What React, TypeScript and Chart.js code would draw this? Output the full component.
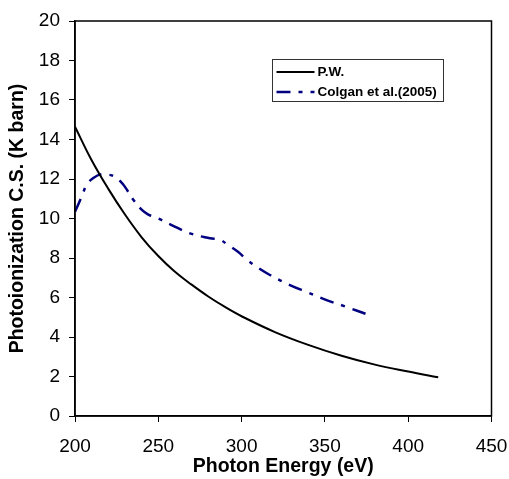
import React, { useEffect, useRef } from "react";
import { Chart, registerables } from "chart.js";

Chart.register(...registerables);

const pwEnergy = [200, 210, 220, 230, 240, 250, 260, 270, 280, 290, 300, 320, 340, 360, 380, 400, 418];
const pwCS = [14.65, 12.95, 11.5, 10.2, 9.05, 8.1, 7.3, 6.65, 6.05, 5.52, 5.05, 4.25, 3.6, 3.05, 2.6, 2.25, 1.96];

const colganEnergy = [200, 204, 207, 211, 216, 220, 224, 227, 230, 235, 240, 244, 248, 258, 269, 281, 287, 292, 298, 303, 310, 317, 329, 340, 351, 362, 375];
const colganCS = [10.34, 11.1, 11.7, 12.05, 12.25, 12.22, 12.12, 11.9, 11.6, 10.95, 10.45, 10.2, 10.08, 9.67, 9.25, 9.0, 8.92, 8.65, 8.3, 7.93, 7.5, 7.14, 6.63, 6.25, 5.87, 5.55, 5.16];

const seriesNames = ["P.W.", "Colgan et al.(2005)"];
const xTitle = "Photon Energy (eV)";
const yTitle = "Photoionization C.S. (K barn)";

const FONT = "'Liberation Sans', Arial, sans-serif";

const framePlugin = {
  id: "frame",
  afterDraw(chart: any) {
    const { ctx, chartArea: a } = chart;
    ctx.save();
    ctx.strokeStyle = "#000";
    ctx.lineWidth = 1.5;
    ctx.strokeRect(a.left, a.top, a.right - a.left, a.bottom - a.top);
    // legend box
    const bx = 272.5, by = 59.5, bw = 171, bh = 42;
    ctx.fillStyle = "#fff";
    ctx.fillRect(bx, by, bw, bh);
    ctx.lineWidth = 1;
    ctx.strokeStyle = "#333";
    ctx.strokeRect(bx, by, bw, bh);
    const rows = [
      { y: by + 12.5, color: "#000", dash: [] as number[], w: 2 },
      { y: by + 32.5, color: "#000080", dash: [14, 8, 4, 8], w: 2.5 },
    ];
    rows.forEach((r, i) => {
      ctx.beginPath();
      ctx.setLineDash(r.dash);
      ctx.strokeStyle = r.color;
      ctx.lineWidth = r.w;
      ctx.moveTo(bx + 4, r.y);
      ctx.lineTo(bx + 42, r.y);
      ctx.stroke();
      ctx.setLineDash([]);
      ctx.fillStyle = "#000";
      ctx.font = "bold 13.5px " + FONT;
      ctx.textBaseline = "middle";
      ctx.textAlign = "left";
      ctx.fillText(seriesNames[i], bx + 45, r.y);
    });
    ctx.restore();
  },
};

export default function App() {
  const ref = useRef<HTMLCanvasElement>(null);
  useEffect(() => {
    if (!ref.current) return;
    const chart = new Chart(ref.current, {
      type: "line",
      data: {
        datasets: [
          {
            label: seriesNames[0],
            data: pwEnergy.map((x, i) => ({ x, y: pwCS[i] })),
            borderColor: "#000",
            borderWidth: 2,
            pointRadius: 0,
            tension: 0.4,
            fill: false,
          },
          {
            label: seriesNames[1],
            data: colganEnergy.map((x, i) => ({ x, y: colganCS[i] })),
            borderColor: "#000080",
            borderWidth: 2.5,
            borderDash: [14, 8, 4, 8],
            pointRadius: 0,
            tension: 0.4,
            fill: false,
          },
        ],
      },
      options: {
        animation: false,
        responsive: false,
        maintainAspectRatio: false,
        layout: { padding: { top: 21, right: 17.5, left: 0, bottom: 0 } },
        plugins: { legend: { display: false }, tooltip: { enabled: false } },
        scales: {
          x: {
            type: "linear",
            min: 200,
            max: 450,
            afterFit: (s: any) => {
              s.height = 63;
              s.paddingLeft = 0;
              s.paddingRight = 0;
            },
            ticks: {
              stepSize: 50,
              color: "#000",
              padding: 13,
              font: { family: FONT, size: 19 },
              maxRotation: 0,
            },
            grid: {
              display: true,
              drawOnChartArea: false,
              drawTicks: true,
              tickLength: 6,
              color: "#000",
            },
            border: { display: true, color: "#000", width: 1.5 },
            title: {
              display: true,
              text: xTitle,
              color: "#000",
              font: { family: FONT, size: 19.5, weight: "bold" },
              padding: { top: 0, bottom: 1 },
            },
          },
          y: {
            type: "linear",
            min: 0,
            max: 20,
            afterFit: (s: any) => {
              s.width = 75;
              s.paddingTop = 0;
              s.paddingBottom = 0;
            },
            ticks: {
              stepSize: 2,
              color: "#000",
              padding: 9,
              font: { family: FONT, size: 19 },
            },
            grid: {
              display: true,
              drawOnChartArea: false,
              drawTicks: true,
              tickLength: 6,
              color: "#000",
            },
            border: { display: true, color: "#000", width: 1.5 },
            title: {
              display: true,
              text: yTitle,
              color: "#000",
              font: { family: FONT, size: 19.5, weight: "bold" },
              padding: { top: 6, bottom: 0 },
            },
          },
        },
      },
      plugins: [framePlugin],
    } as any);
    return () => chart.destroy();
  }, []);
  return (
    <div style={{ position: "fixed", left: 0, top: 0, width: 509, height: 479, background: "#fff" }}>
      <canvas ref={ref} width={509} height={479} style={{ width: 509, height: 479 }} />
    </div>
  );
}
